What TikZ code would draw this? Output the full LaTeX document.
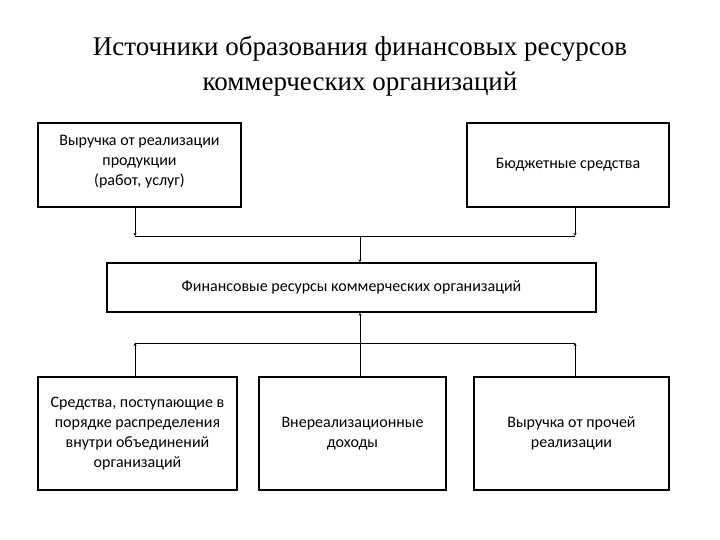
\documentclass[tikz,border=0pt]{standalone}
\usepackage{fontspec}
\setmainfont{Carlito}
\newfontfamily\titlefont{Liberation Serif}
\usetikzlibrary{arrows.meta}
\begin{document}
\begin{tikzpicture}[x=1pt,y=-1pt,
  box/.style={draw,line width=1.6pt,align=center,font=\fontsize{16}{20}\selectfont,inner sep=0},
  conn/.style={line width=0.9pt,-{Stealth[length=3pt,width=3pt]}},
  ln/.style={line width=0.9pt}]
\useasboundingbox (0,0) rectangle (720,540);
\node[font=\titlefont\fontsize{27}{35}\selectfont,align=center] (title) at (360,66) {Источники образования финансовых ресурсов\\коммерческих организаций};
\draw[line width=1.6pt] (38,123) rectangle (241,207);
\node[align=center,font=\fontsize{16}{20}\selectfont,anchor=north,inner sep=0] (a) at (139.5,135) {Выручка от реализации\\продукции\\(работ, услуг)};
\path (38,123) coordinate (a0) (241,207) coordinate (aa);
\node[box,minimum width=202,minimum height=84] (b) at (568,165) {Бюджетные средства};
\node[box,minimum width=489,minimum height=49] (f) at (351.5,287.5) {Финансовые ресурсы коммерческих организаций};
\node[box,minimum width=199,minimum height=113] (c) at (137.5,433.5) {Средства, поступающие в\\порядке распределения\\внутри объединений\\организаций};
\node[box,minimum width=187,minimum height=113] (d) at (352.5,433.5) {Внереализационные\\доходы};
\node[box,minimum width=195,minimum height=113] (e) at (571.5,433.5) {Выручка от прочей\\реализации};
\coordinate (a1) at (135,236); \coordinate (b1) at (575,236); \coordinate (m1) at (360,236);
\coordinate (c1) at (135,343); \coordinate (e1) at (575,343); \coordinate (m2) at (360,343);
\draw[conn] (aa -| a1) -- (a1);
\draw[conn] (b.south -| b1) -- (b1);
\draw[ln] (a1) -- (b1);
\draw[conn] (m1) -- (m1 |- f.north);
\draw[conn] (c.north -| c1) -- (c1);
\draw[conn] (e.north -| e1) -- (e1);
\draw[ln] (c1) -- (e1);
\draw[conn] (d.north -| m2) -- (m2 |- f.south);
\end{tikzpicture}
\end{document}
